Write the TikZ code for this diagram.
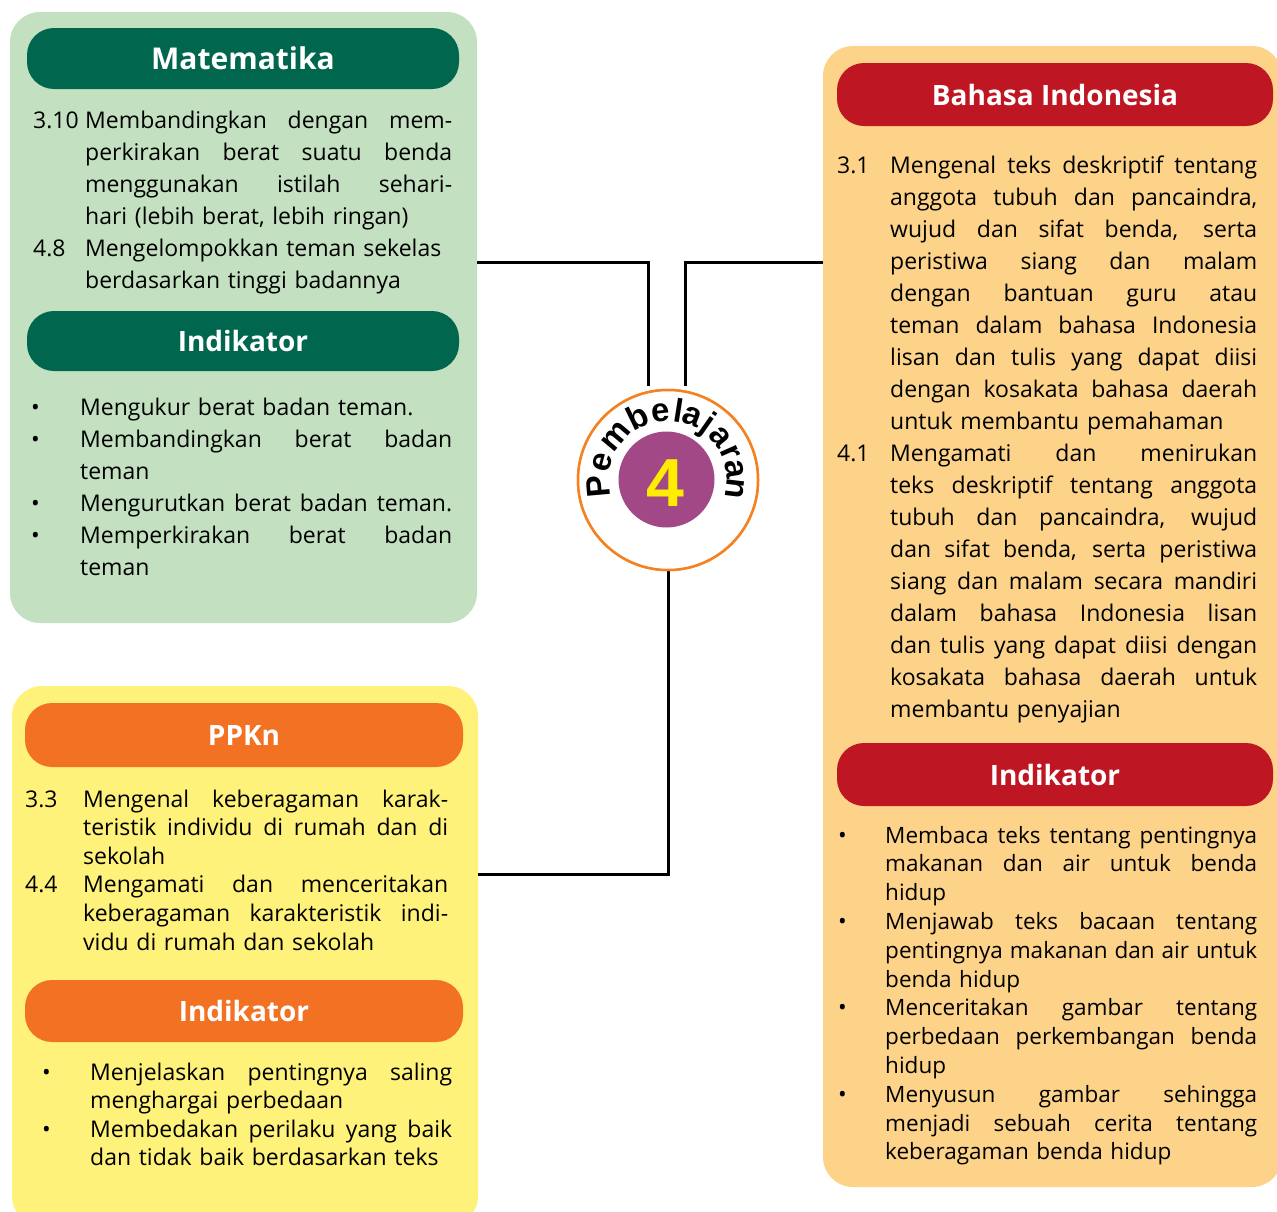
\documentclass[tikz,border=0pt]{standalone}
\usepackage{fontspec}
\setmainfont{Open Sans}
\newfontfamily\circfont{Liberation Sans}
\definecolor{pgreen}{RGB}{195,225,193}
\definecolor{dgreen}{RGB}{0,103,78}
\definecolor{porange}{RGB}{253,211,138}
\definecolor{dred}{RGB}{190,22,34}
\definecolor{pyellow}{RGB}{255,242,122}
\definecolor{horange}{RGB}{242,113,35}
\definecolor{purp}{RGB}{163,72,135}
\definecolor{yel}{RGB}{255,237,0}
\definecolor{circor}{RGB}{245,130,32}
\def\jw{367pt}
\newcommand\jl[1]{\leavevmode\hbox to \jw{\spaceskip=0.2em plus 1fil\relax #1}}
\newcommand\hdrtext[1]{\raisebox{-3pt}{#1}}
\begin{document}
\begin{tikzpicture}[x=1pt,y=-1pt,
  panel/.style={rounded corners=30pt, inner sep=0pt, draw=none},
  hdr/.style={rounded corners=27pt, inner sep=0pt, text=white, font=\fontsize{28}{34}\selectfont\bfseries},
  bodyA/.style={anchor=base west, inner sep=0pt, align=left, font=\fontsize{23}{32}\selectfont},
  bodyB/.style={anchor=base west, inner sep=0pt, align=left, font=\fontsize{23}{28.6}\selectfont},
  bodyC/.style={anchor=base west, inner sep=0pt, align=left, font=\fontsize{22.5}{28.8}\selectfont},
  numA/.style={anchor=base west, inner sep=0pt, font=\fontsize{23}{32}\selectfont},
  numB/.style={anchor=base west, inner sep=0pt, font=\fontsize{23}{28.6}\selectfont},
  conn/.style={line width=3pt, black}]
\useasboundingbox (0,0) rectangle (1277,1211);
\clip (0,0) rectangle (1277,1211);
\fill[white] (0,0) rectangle (1277,1211);

% panels
\node[panel, fill=pgreen, minimum width=467pt, minimum height=611pt] (green) at (243.5,317.5) {};
\node[panel, fill=porange, minimum width=459pt, minimum height=1141pt] (orange) at (1052.5,616.5) {};
\node[panel, fill=pyellow, minimum width=466pt, minimum height=540pt] (yellow) at (245,956) {};

% connectors
\coordinate (j1) at (648,386);
\coordinate (j2) at (685,386);
\coordinate (hA) at (0,262.5);
\coordinate (hB) at (0,874.5);
\node[circle, draw=circor, line width=2.5pt, fill=white, minimum size=180pt, inner sep=0pt] (circ) at (668,480) {};
\draw[conn] (green.east |- hA) -| (j1);
\draw[conn] (orange.west |- hA) -| (j2);
\draw[conn] (circ.south) |- (yellow.east |- hB);
\node[circle, draw=circor, line width=2.5pt, fill=white, minimum size=180pt, inner sep=0pt] (circ2) at (668,480) {};
\node[circle, fill=purp, minimum size=96pt, inner sep=0pt] (inner) at (666.5,479.5) {};
\node[font=\circfont\bfseries\fontsize{68}{68}\selectfont, text=yel, inner sep=0pt] (four) at (665,483) {4};
\begin{scope}[shift={(668,480)}, y=1pt]
\foreach \ang/\ch [count=\i] in {185/P,165/e,140/m,116/b,96/e,81/l,69/a,55/j,39.5/a,24/r,9/a,-7/n}
  \node[rotate=\ang-90, anchor=base, inner sep=0pt, font=\circfont\bfseries\fontsize{33}{33}\selectfont] (let\i) at (\ang:59) {\ch};
\end{scope}

% headers
\node[hdr, fill=dgreen, minimum width=432pt, minimum height=61pt, font=\fontsize{30}{34}\selectfont\bfseries] (hmat) at (243,58.5) {\hdrtext{Matematika}};
\node[hdr, fill=dgreen, minimum width=432pt, minimum height=60pt] (hind1) at (243,341) {\hdrtext{Indikator}};
\node[hdr, fill=dred, minimum width=436pt, minimum height=63pt] (hbin) at (1055,94.5) {\hdrtext{Bahasa Indonesia}};
\node[hdr, fill=dred, minimum width=436pt, minimum height=63pt] (hind2) at (1055,774.5) {\hdrtext{Indikator}};
\node[hdr, fill=horange, minimum width=438pt, minimum height=64pt] (hppk) at (244,735) {\hdrtext{PPKn}};
\node[hdr, fill=horange, minimum width=438pt, minimum height=62pt] (hind3) at (244,1011) {\hdrtext{Indikator}};

% Matematika
\node[numA] (n310) at (33,128) {3.10};
\node[numA] (n48) at (33,256) {4.8};
\node[bodyA, text width=367pt] (tmat) at (85,128) {\def\jw{367pt}%
\jl{Membandingkan dengan mem-}\\
\jl{perkirakan berat suatu benda}\\
\jl{menggunakan istilah sehari-}\\
hari (lebih berat, lebih ringan)\\
Mengelompokkan teman sekelas\\
berdasarkan tinggi badannya};

% Indikator Matematika
\node[numA] (b1) at (31,415) {•};
\node[numA] (b2) at (31,447) {•};
\node[numA] (b3) at (31,511) {•};
\node[numA] (b4) at (31,543) {•};
\node[bodyA, text width=372pt] (tind1) at (80,415) {\def\jw{372pt}%
Mengukur berat badan teman.\\
\jl{Membandingkan berat badan}\\
teman\\
\jl{Mengurutkan berat badan teman.}\\
\jl{Memperkirakan berat badan}\\
teman};

% Bahasa Indonesia
\node[numA] (n31) at (837,173) {3.1};
\node[numA] (n41) at (837,461) {4.1};
\node[bodyA, text width=367pt] (tbin) at (890,173) {\def\jw{367pt}%
\jl{Mengenal teks deskriptif tentang}\\
\jl{anggota tubuh dan pancaindra,}\\
\jl{wujud dan sifat benda, serta}\\
\jl{peristiwa siang dan malam}\\
\jl{dengan bantuan guru atau}\\
\jl{teman dalam bahasa Indonesia}\\
\jl{lisan dan tulis yang dapat diisi}\\
\jl{dengan kosakata bahasa daerah}\\
untuk membantu pemahaman\\
\jl{Mengamati dan menirukan}\\
\jl{teks deskriptif tentang anggota}\\
\jl{tubuh dan pancaindra, wujud}\\
\jl{dan sifat benda, serta peristiwa}\\
\jl{siang dan malam secara mandiri}\\
\jl{dalam bahasa Indonesia lisan}\\
\jl{dan tulis yang dapat diisi dengan}\\
\jl{kosakata bahasa daerah untuk}\\
membantu penyajian};

% Indikator Bahasa
\node[numB] (c1) at (838,843) {•};
\node[numB] (c2) at (838,929.4) {•};
\node[numB] (c3) at (838,1015.8) {•};
\node[numB] (c4) at (838,1102.2) {•};
\node[bodyC, text width=372pt] (tind2) at (885,843) {\def\jw{372pt}%
\jl{Membaca teks tentang pentingnya}\\
\jl{makanan dan air untuk benda}\\
hidup\\
\jl{Menjawab teks bacaan tentang}\\
\jl{pentingnya makanan dan air untuk}\\
benda hidup\\
\jl{Menceritakan gambar tentang}\\
\jl{perbedaan perkembangan benda}\\
hidup\\
\jl{Menyusun gambar sehingga}\\
\jl{menjadi sebuah cerita tentang}\\
keberagaman benda hidup};

% PPKn
\node[numB] (n33) at (25,807) {3.3};
\node[numB] (n44) at (25,892.8) {4.4};
\node[bodyB, text width=365pt] (tppk) at (83,807) {\def\jw{365pt}%
\jl{Mengenal keberagaman karak-}\\
\jl{teristik individu di rumah dan di}\\
sekolah\\
\jl{Mengamati dan menceritakan}\\
\jl{keberagaman karakteristik indi-}\\
vidu di rumah dan sekolah};

% Indikator PPKn
\node[numB] (d1) at (42,1080) {•};
\node[numB] (d2) at (42,1137.2) {•};
\node[bodyB, text width=362pt] (tind3) at (90,1080) {\def\jw{362pt}%
\jl{Menjelaskan pentingnya saling}\\
menghargai perbedaan\\
\jl{Membedakan perilaku yang baik}\\
dan tidak baik berdasarkan teks};
\end{tikzpicture}
\end{document}
